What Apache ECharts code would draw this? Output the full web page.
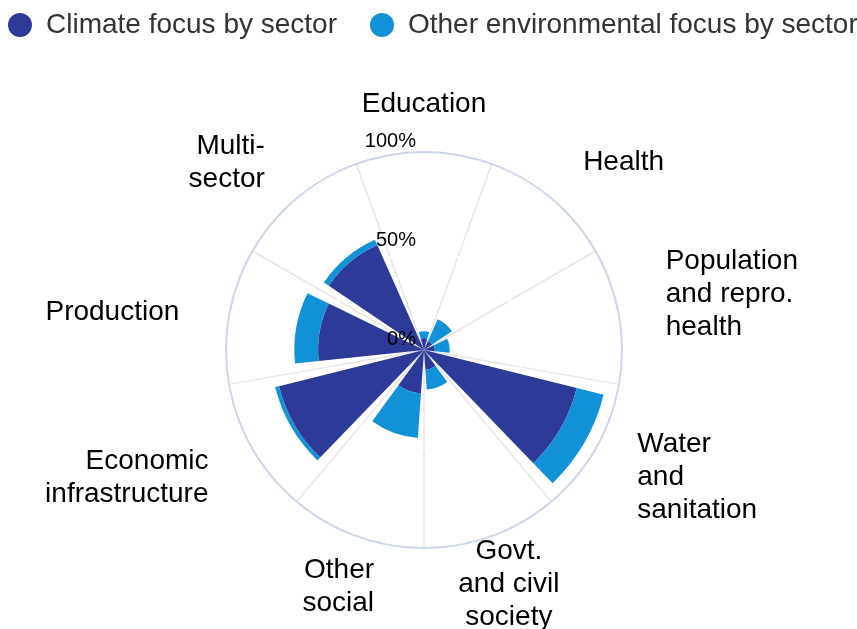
<!DOCTYPE html>
<html><head><meta charset="utf-8">
<script src="https://cdn.jsdelivr.net/npm/echarts@6/dist/echarts.min.js"></script>
<style>html,body{margin:0;padding:0;background:#fff}#c{width:857px;height:629px}</style>
</head><body><div id="c"></div>
<script>
// ---- data ----
const categories = ['Education', 'Health', 'Population\nand repro.\nhealth', 'Water\nand\nsanitation',
  'Govt.\nand civil\nsociety', 'Other\nsocial', 'Economic\ninfrastructure', 'Production', 'Multi-\nsector'];
const climateFocus = [6, 5, 5.5, 79.5, 10, 22, 75.5, 53.5, 58];
const otherFocus = [3.5, 12, 7.5, 14, 10, 22.5, 2, 12, 3];
const seriesNames = ['Climate focus by sector', 'Other environmental focus by sector'];
const radiusMax = 100;
const radiusStep = 50;

// ---- label placement (style only) ----
const labelPadding = [
  [0, 0, 11, 0],
  [0, 0, 4.5, 19],
  [0, 0, 0, 27],
  [-31.5, 0, 0, 24.5],
  [-20.4, 0, 0, -40.3],
  [-1, -24.6, 0, 0],
  [-14, 26.7, 0, 0],
  [0, 30, 0, 0],
  [0, 19, -13, 0]
];
const centeredLines = [false, false, false, false, true, false, false, false, false];
const bottomSpacer = [0, 0, 35, 0, 0, 0, 0, 0, 0];

const FONT = '"Liberation Sans", Arial, Helvetica, sans-serif';
const chart = echarts.init(document.getElementById('c'));

const angleData = categories.map((c, i) => {
  const ts = { padding: labelPadding[i] };
  if (centeredLines[i]) {
    ts.rich = { c: { align: 'center', fontSize: 28, lineHeight: 33, color: '#000', fontFamily: FONT } };
  }
  if (bottomSpacer[i]) {
    ts.rich = { s: { fontSize: 2, lineHeight: bottomSpacer[i], color: 'rgba(0,0,0,0)' } };
  }
  return { value: c, textStyle: ts };
});

const option = {
  animation: false,
  legend: {
    left: 8, top: 11, padding: 0, itemGap: 33, width: 900,
    icon: 'circle', itemWidth: 24, itemHeight: 24,
    textStyle: { fontSize: 28, color: '#333', fontFamily: FONT, padding: [0, 0, 0, 9] },
    data: seriesNames
  },
  polar: [
    { center: [424, 350], radius: 198 },
    { center: [424, 350], radius: 198 }
  ],
  angleAxis: [
    {
      polarIndex: 0, type: 'category', data: angleData, startAngle: 110, z: 0,
      axisLine: { lineStyle: { color: '#ccd6eb', width: 2 } },
      axisTick: { show: false },
      axisLabel: {
        margin: 20, fontSize: 28, lineHeight: 33, color: '#000', fontFamily: FONT,
        formatter: function (v, i) {
          if (centeredLines[i]) return v.split('\n').map(s => '{c|' + s + '}').join('\n');
          if (bottomSpacer[i]) return v + '\n{s| }';
          return v;
        }
      },
      splitLine: { show: true, lineStyle: { color: '#e6e6e6', width: 1.5 } }
    },
    { polarIndex: 1, type: 'value', min: 0, max: 360, startAngle: 90, show: false }
  ],
  radiusAxis: [
    {
      polarIndex: 0, type: 'value', min: 0, max: radiusMax, interval: radiusStep, z: 1,
      axisLine: { show: false }, axisTick: { show: false }, axisLabel: { show: false },
      splitLine: { show: true, lineStyle: { color: ['rgba(255,255,255,0)', '#ffffff', 'rgba(255,255,255,0)'], width: 2 } }
    },
    {
      polarIndex: 1, type: 'value', min: 0, max: radiusMax, interval: radiusStep, z: 3,
      axisLine: { show: false }, axisTick: { show: false }, splitLine: { show: false },
      axisLabel: {
        formatter: '{value}%', fontSize: 20, lineHeight: 20, color: '#000', fontFamily: FONT,
        margin: 8, verticalAlign: 'bottom', padding: [0, 0, 1, 0]
      }
    }
  ],
  series: [
    {
      name: seriesNames[0], type: 'bar', coordinateSystem: 'polar', polarIndex: 0, stack: 'total',
      data: climateFocus, itemStyle: { color: '#2e3a98' }, barCategoryGap: '20%'
    },
    {
      name: seriesNames[1], type: 'bar', coordinateSystem: 'polar', polarIndex: 0, stack: 'total',
      data: otherFocus, itemStyle: { color: '#1192d8' }, barCategoryGap: '20%'
    }
  ]
};
chart.setOption(option);
</script>
</body></html>
